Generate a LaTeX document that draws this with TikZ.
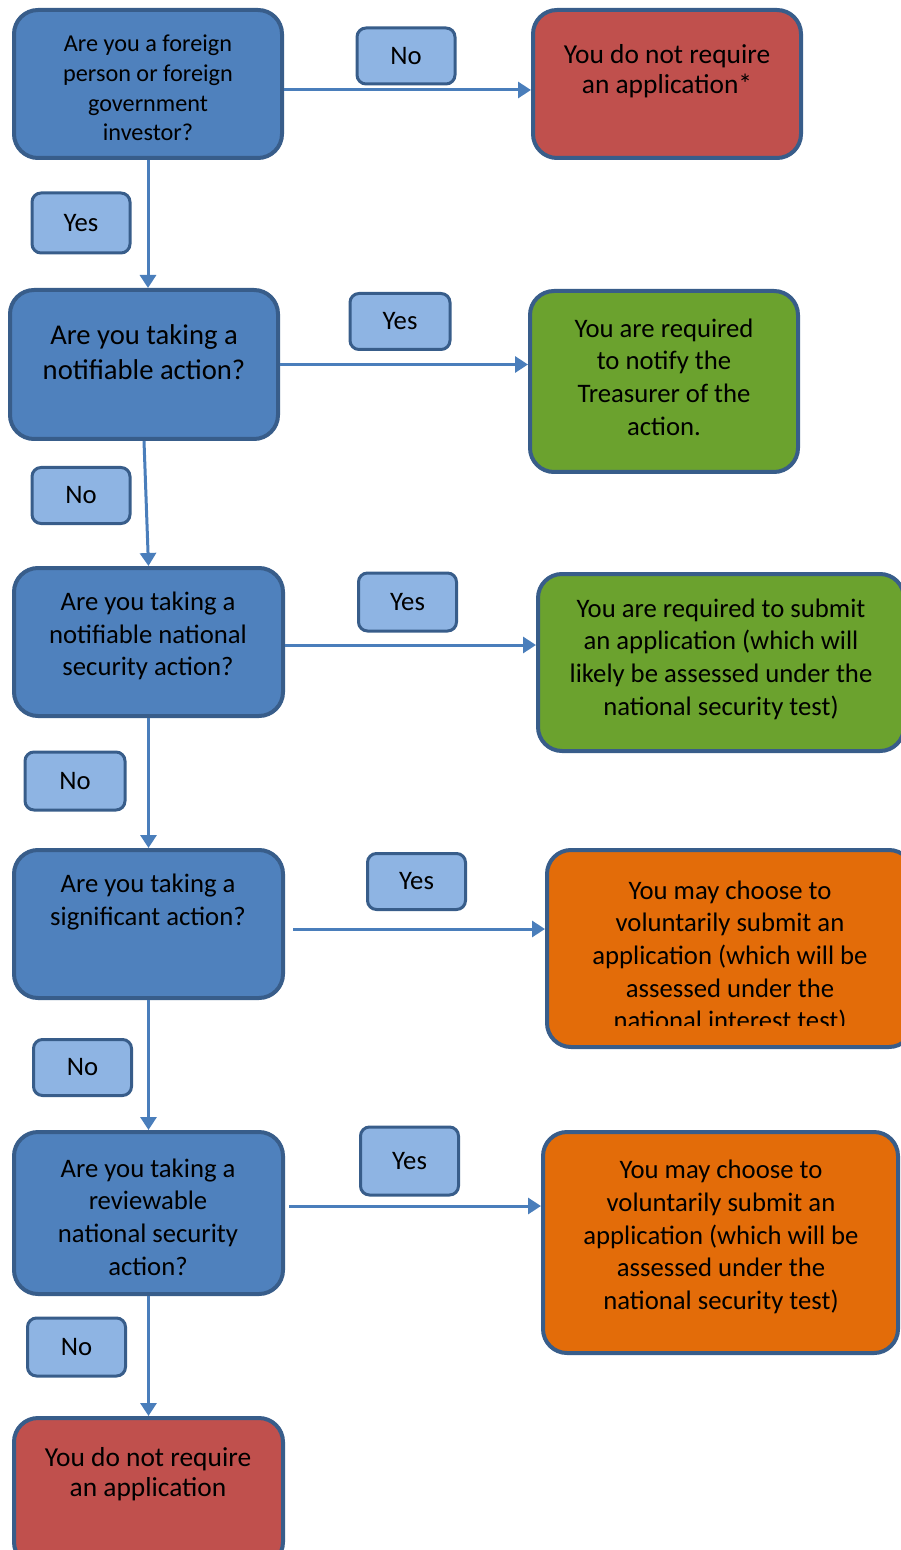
\documentclass[tikz,border=0pt]{standalone}
\usepackage{fontspec}
\setmainfont{Carlito}
\usetikzlibrary{arrows.meta,positioning}
\newlength\unitpx
\setlength\unitpx{0.02cm}
\definecolor{qblue}{RGB}{79,129,189}
\definecolor{edgeblue}{RGB}{56,93,138}
\definecolor{tagblue}{RGB}{142,180,227}
\definecolor{arrowblue}{RGB}{74,126,187}
\definecolor{nored}{RGB}{192,80,77}
\definecolor{yesgreen}{RGB}{107,162,46}
\definecolor{mayorange}{RGB}{227,108,9}
\begin{document}
\begin{tikzpicture}[x=0.02cm, y=-0.02cm,
	box/.style={draw=edgeblue, line width=4\unitpx, rounded corners=24\unitpx, inner sep=0pt, minimum width=268\unitpx, minimum height=148\unitpx},
	tag/.style={draw=edgeblue, fill=tagblue, line width=3\unitpx, rounded corners=9\unitpx, inner sep=0pt, minimum width=98\unitpx, minimum height=56\unitpx, font=\fontsize{15.2}{18.6}\selectfont},
	txt/.style={align=center, inner sep=0pt, font=\fontsize{15.2}{18.6}\selectfont},
	smalltxt/.style={align=center, inner sep=0pt, font=\fontsize{13.8}{16.8}\selectfont},
	arr/.style={draw=arrowblue, line width=3\unitpx, -{Triangle[length=0.26cm, width=0.32cm]}}]
	\useasboundingbox (0,0) rectangle (901,1550);
	% questions down the left
	\node[box, fill=qblue] (q1) at (148,84) {};
	\node[box, fill=qblue, minimum height=149\unitpx] (q2) at (144,364.5) {};
	\node[box, fill=qblue, minimum width=269\unitpx] (q3) at (148.5,642) {};
	\node[box, fill=qblue, minimum width=269\unitpx] (q4) at (148.5,924) {};
	\node[box, fill=qblue, minimum width=269\unitpx, minimum height=162\unitpx] (q5) at (148.5,1213) {};
	\node[box, fill=nored, minimum width=269\unitpx] (r2) at (148.5,1492) {};
	% outcomes on the right
	\node[box, fill=nored] (r1) at (667,84) {};
	\node[box, fill=yesgreen, minimum height=181\unitpx] (g1) at (664,381.5) {};
	\node[box, fill=yesgreen, minimum width=366\unitpx, minimum height=177\unitpx] (g2) at (721,662.5) {};
	\node[box, fill=mayorange, minimum width=366\unitpx, minimum height=197\unitpx] (o1) at (730,948.5) {};
	\node[box, fill=mayorange, minimum width=355\unitpx, minimum height=221\unitpx] (o2) at (720.5,1242.5) {};
	% texts
	\node[smalltxt] (q1t) at (148,88) {Are you a foreign\\person or foreign\\government\\investor?};
	\node[txt, font=\fontsize{15.6}{17}\selectfont] (r1t) at (667,71) {You do not require\\an application*};
	\node[txt, font=\fontsize{16.3}{20}\selectfont] (q2t) at (144,352) {Are you taking a\\notifiable action?};
	\node[txt] (g1t) at (664,377) {You are required\\to notify the\\Treasurer of the\\action.};
	\node[txt] (q3t) at (148,636) {Are you taking a\\notifiable national\\security action?};
	\node[txt] (g2t) at (721,659) {You are required to submit\\an application (which will\\likely be assessed under the\\national security test)};
	\node[txt] (q4t) at (148,902) {Are you taking a\\significant action?};
	\begin{scope}
		\clip (540,845) rectangle (920,1025);
		\node[txt] (o1t) at (730,957) {You may choose to\\voluntarily submit an\\application (which will be\\assessed under the\\national interest test)};
	\end{scope}
	\node[txt] (q5t) at (148,1217) {Are you taking a\\reviewable\\national security\\action?};
	\node[txt] (o2t) at (721,1237) {You may choose to\\voluntarily submit an\\application (which will be\\assessed under the\\national security test)};
	\node[txt, font=\fontsize{15.6}{17}\selectfont] (r2t) at (148,1474) {You do not require\\an application};
	% yes / no tags
	\node[tag] (no1) at (406,56) {No};
	\node[tag, minimum height=60\unitpx] (yes1) at (81,223) {Yes};
	\node[tag, minimum width=100\unitpx] (yes2) at (400,321.5) {Yes};
	\node[tag] (no2) at (81,495.5) {No};
	\node[tag, minimum height=58\unitpx] (yes3) at (407.5,602) {Yes};
	\node[tag, minimum width=100\unitpx, minimum height=58\unitpx] (no3) at (75,781) {No};
	\node[tag] (yes4) at (416.5,881.5) {Yes};
	\node[tag] (no4) at (82.5,1067.5) {No};
	\node[tag, minimum height=68\unitpx] (yes5) at (409.5,1161) {Yes};
	\node[tag, minimum height=58\unitpx] (no5) at (76.5,1347) {No};
	% connectors
	\coordinate (q1out) at ([yshift=-6\unitpx]q1.east);
	\coordinate (q3out) at ([yshift=-3\unitpx]q3.east);
	\coordinate (q4out) at ([xshift=8\unitpx, yshift=-5\unitpx]q4.east);
	\coordinate (q5out) at ([xshift=4\unitpx, yshift=7\unitpx]q5.east);
	\draw[arr] (q1out) -- (q1out -| r1.west);
	\draw[arr] (q2.east) -- (q2.east -| g1.west);
	\draw[arr] (q3out) -- (q3out -| g2.west);
	\draw[arr] (q4out) -- (q4out -| o1.west);
	\draw[arr] (q5out) -- (q5out -| o2.west);
	\draw[arr] (q1.south) -- (q1.south |- q2.north);
	\draw[arr] (q2.south) -- (q3.north);
	\draw[arr] (q3.south) -- (q4.north);
	\draw[arr] (q4.south) -- (q5.north);
	\draw[arr] (q5.south) -- (r2.north);
\end{tikzpicture}
\end{document}
